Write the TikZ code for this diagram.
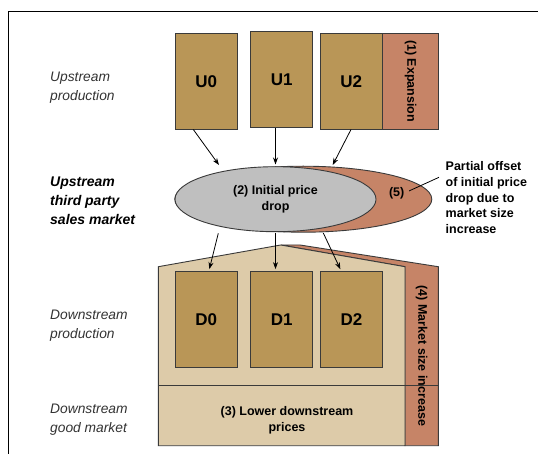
\documentclass[tikz,border=0pt]{standalone}
\usepackage{fontspec}
\setmainfont{Liberation Sans}
\usetikzlibrary{shapes.geometric,arrows.meta}
\definecolor{boxc}{HTML}{B99657}
\definecolor{orangec}{HTML}{C68467}
\definecolor{beigec}{HTML}{DDCBA9}
\definecolor{grayc}{HTML}{BFBFBF}
\definecolor{edge}{HTML}{3A3A3A}
\definecolor{txtgray}{HTML}{333333}
\tikzset{
  ubox/.style={draw=edge, fill=boxc, line width=0.9pt, inner sep=0,
    font=\fontsize{17}{20}\selectfont\bfseries},
  arr/.style={-{Stealth[length=7pt,width=5pt]}, line width=0.8pt, draw=black},
  lbl/.style={font=\fontsize{12.5}{15.6}\selectfont\bfseries, align=center, inner sep=0},
  side/.style={font=\fontsize{13.8}{19}\selectfont\itshape, align=left, anchor=west,
    inner sep=0, text=txtgray},
  sideb/.style={font=\fontsize{14}{19}\selectfont\bfseries\itshape, align=left, anchor=west,
    inner sep=0, text=black},
  shapeline/.style={draw=edge, line width=0.9pt, line join=miter}
}
\begin{document}
\begin{tikzpicture}[x=1pt,y=-1pt]
\useasboundingbox (0,0) rectangle (538,454);
\fill[white] (0,0) rectangle (538,454);
% frame
\draw[line width=1pt] (8.5,454) -- (8.5,11.3) -- (538,11.3);

% left labels
\node[side] (lup) at (50,88) {Upstream\\production};
\node[sideb] (lmk) at (50,201) {Upstream\\third party\\sales market};
\node[side] (ldp) at (50,325.5) {Downstream\\production};
\node[side] (ldg) at (50,419.5) {Downstream\\good market};

% upstream boxes
\node[ubox, minimum width=62.7pt, minimum height=95.7pt] (U0) at (206.3,81.2) {U0};
\node[ubox, minimum width=62pt, minimum height=96pt] (U1) at (281.7,79.7) {U1};
\node[ubox, minimum width=62pt, minimum height=95.7pt] (U2) at (351.3,81.2) {U2};
\node[draw=edge, fill=orangec, line width=0.9pt, inner sep=0, rotate=-90,
  minimum width=95.7pt, minimum height=56.4pt, lbl] (EX) at (410.5,81.2) {(1) Expansion};

% house (downstream)
\draw[shapeline, fill=orangec] (281,245) -- (300,245) -- (438.3,266.7) -- (438.3,445.7)
  -- (405,445.7) -- (405,266.7) -- cycle;
\draw[shapeline, fill=beigec] (158.3,445.7) -- (158.3,266.7) -- (280.7,245) -- (405,266.7)
  -- (405,445.7) -- cycle;
\draw[shapeline] (158.3,385.7) -- (438.3,385.7);
\node[lbl] (low) at (287,420.5) {(3) Lower downstream\\prices};
\node[lbl, rotate=-90] (msi) at (421.7,356) {(4) Market size increase};

% downstream boxes
\node[ubox, minimum width=62.7pt, minimum height=96.7pt] (D0) at (206.3,319.4) {D0};
\node[ubox, minimum width=62pt, minimum height=96.7pt] (D1) at (281.7,319.4) {D1};
\node[ubox, minimum width=61.6pt, minimum height=96.7pt] (D2) at (351.5,319.4) {D2};

% ellipses
\node[ellipse, draw=edge, line width=0.9pt, fill=orangec, minimum width=257pt,
  minimum height=66pt, inner sep=0] (ell5) at (303.3,199.2) {};
\node[ellipse, draw=edge, line width=0.9pt, fill=grayc, minimum width=201pt,
  minimum height=65pt, inner sep=0, lbl] (ell2) at (275.5,199.2) {(2) Initial price\\drop};
\node[lbl] (p5) at (396.7,193) {(5)};
\node[lbl, align=left, anchor=west] (offs) at (445.5,197.7)
  {Partial offset\\of initial price\\drop due to\\market size\\increase};
\coordinate (cend) at (439,177.3);
\draw[line width=0.8pt, shorten <=5pt] (p5.east) -- (cend);

% arrows upstream -> market
\coordinate (a0) at (219,165);
\coordinate (a1) at (275.5,164.5);
\coordinate (a2) at (332.7,165);
\draw[arr] ([xshift=-13pt]U0.south) -- (a0);
\draw[arr] ([xshift=-6.2pt]U1.south) -- (a1);
\draw[arr] ([xshift=-0.3pt]U2.south) -- (a2);

% arrows market -> downstream
\coordinate (b0) at (218.3,233.3);
\coordinate (b1) at (275.5,233);
\coordinate (b2) at (323.3,233);
\draw[arr, shorten >=1.5pt] (b0) -- ([xshift=2.7pt]D0.north);
\draw[arr, shorten >=1.5pt] (b1) -- ([xshift=-6.2pt]D1.north);
\draw[arr, shorten >=1.5pt] (b2) -- ([xshift=-10.5pt]D2.north);
\end{tikzpicture}
\end{document}
